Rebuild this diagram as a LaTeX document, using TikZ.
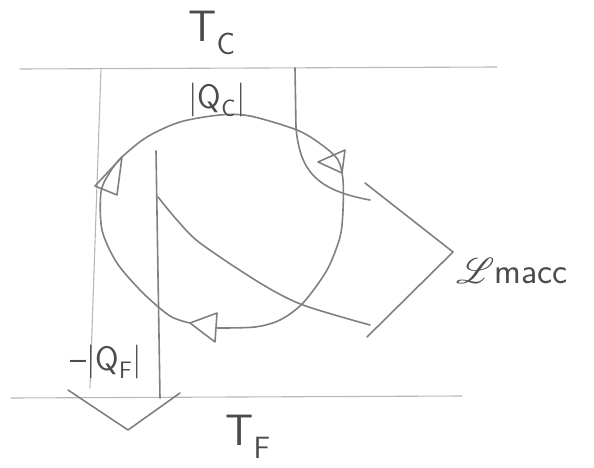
\documentclass[tikz,border=0pt]{standalone}
\usepackage{mathrsfs}
\begin{document}
\begin{tikzpicture}[x=1pt,y=-1pt,line join=round,line cap=round]
	\tikzset{pen/.style={draw=black!50,line width=1.6pt},faint/.style={draw=black!28,line width=1.1pt},
		lbl/.style={text=black!70,inner sep=0pt},big/.style={font=\sffamily\fontsize{44}{48}\selectfont},mid/.style={font=\sffamily\fontsize{34}{38}\selectfont}}
	\useasboundingbox (0,0) rectangle (594,468);
	\draw[faint] (20,69)--(497,67);
	\draw[faint] (11,398)--(462,396);
	\draw[faint] (101,68)--(90,388);
	\draw[pen] (295,68)--(296,128) .. controls (300,170) and (315,190) .. (370,200);
	\draw[pen] (156,151)--(160,398);
	\draw[pen,smooth] plot coordinates {(158,197) (177,220) (200,243) (260,283) (303,305) (370,325)};
	\draw[pen,smooth] plot coordinates {(190,323) (170,316) (143,293) (117,263) (102,230) (101,192) (110,172) (122,157) (147,137) (180,122) (220,115) (250,116) (297,130) (322,145) (338,160) (343,180) (343,210) (340,237) (327,270) (303,303) (280,320) (255,327) (217,328)};
	\draw[pen] (122,157)--(95,186)--(117,195)--cycle;
	\draw[pen] (318,162)--(345,150)--(342,173)--cycle;
	\draw[pen] (190,323)--(217,313)--(215,342)--cycle;
	\draw[pen] (365,183)--(453,252)--(367,337);
	\draw[pen] (68,390)--(128,430)--(180,393);
	\node[lbl,big] (tc) at (212,33) {T\textsubscript{C}};
	\node[lbl,mid] (qc) at (217,100) {|Q\textsubscript{C}|};
	\node[lbl,mid] (qf) at (106,362) {--|Q\textsubscript{F}|};
	\node[lbl,big] (tf) at (248,437) {T\textsubscript{F}};
	\node[lbl,anchor=base west] (lm) at (456,283) {\scalebox{3.6}{$\mathscr{L}$}{\sffamily\fontsize{36}{40}\selectfont macc}};
\end{tikzpicture}
\end{document}
